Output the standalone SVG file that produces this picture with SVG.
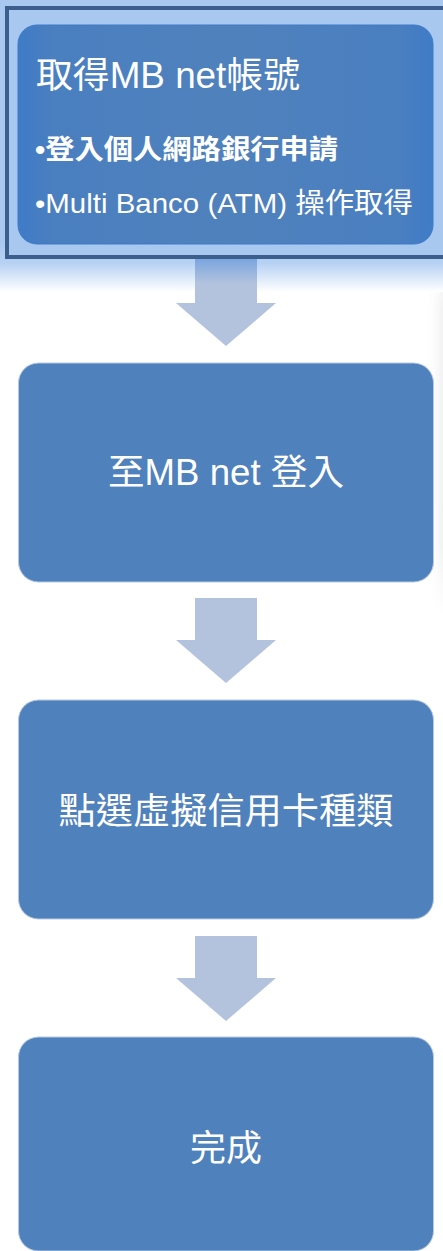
<svg xmlns="http://www.w3.org/2000/svg" width="443" height="1251" viewBox="0 0 443 1251">
  <defs>
    <linearGradient id="glow" x1="0" y1="0" x2="0" y2="1">
      <stop offset="0" stop-color="#a9c8f0"/>
      <stop offset="0.82" stop-color="#a9c8f0"/>
      <stop offset="0.9" stop-color="#b6d1f3"/>
      <stop offset="1" stop-color="#ffffff"/>
    </linearGradient>
    <linearGradient id="topbox" x1="0" y1="0" x2="1" y2="0">
      <stop offset="0" stop-color="#3f7bc7"/>
      <stop offset="0.08" stop-color="#4a7fc0"/>
      <stop offset="0.5" stop-color="#4f81bc"/>
      <stop offset="0.92" stop-color="#4a7fc0"/>
      <stop offset="1" stop-color="#3f7bc7"/>
    </linearGradient>
    <linearGradient id="shaft1" x1="0" y1="0" x2="0" y2="1">
      <stop offset="0" stop-color="#7aa5de"/>
      <stop offset="0.55" stop-color="#b3c3dd"/>
      <stop offset="1" stop-color="#b3c3dd"/>
    </linearGradient>
    <linearGradient id="rshadow" x1="0" y1="0" x2="1" y2="0">
      <stop offset="0" stop-color="#ffffff" stop-opacity="0"/>
      <stop offset="1" stop-color="#f1f1f1"/>
    </linearGradient>
    <linearGradient id="vfade" x1="0" y1="0" x2="0" y2="1">
      <stop offset="0" stop-color="#ffffff" stop-opacity="0"/>
      <stop offset="0.15" stop-color="#ffffff" stop-opacity="1"/>
      <stop offset="0.8" stop-color="#ffffff" stop-opacity="1"/>
      <stop offset="1" stop-color="#ffffff" stop-opacity="0"/>
    </linearGradient>
    <mask id="fadeMask">
      <rect x="425" y="255" width="18" height="360" fill="url(#vfade)"/>
    </mask>
  </defs>
  <style>
    .box { fill: #4f81bd; stroke: #b7c9e2; stroke-width: 1; }
    .lbl { fill: #ffffff; font-family: "Liberation Sans", "Noto Sans CJK TC", sans-serif; font-size: 36px; text-anchor: middle; }
    .t { fill: #ffffff; font-family: "Liberation Sans", "Noto Sans CJK TC", sans-serif; }
    .arrow { fill: #b3c3dd; }
  </style>

  <rect x="0" y="0" width="443" height="1251" fill="#ffffff"/>
  <rect x="425" y="255" width="18" height="360" fill="url(#rshadow)" mask="url(#fadeMask)"/>

  <g id="node1">
    <rect x="0" y="0" width="443" height="292" fill="url(#glow)"/>
    <rect x="7" y="8" width="445" height="249" fill="#a9c8f0" stroke="#3b5e8c" stroke-width="4"/>
    <rect x="18" y="25" width="415" height="219" rx="19" ry="19" fill="url(#topbox)" stroke="#3f7bc8" stroke-width="1"/>
    <text class="t" x="36" y="88" font-size="36" textLength="264" lengthAdjust="spacingAndGlyphs">取得MB net帳號</text>
    <text class="t" x="35" y="159" font-size="27" font-weight="bold" textLength="303" lengthAdjust="spacingAndGlyphs">•登入個人網路銀行申請</text>
    <text class="t" x="35" y="213" font-size="28" textLength="378" lengthAdjust="spacingAndGlyphs">•Multi Banco (ATM) 操作取得</text>
  </g>

  <g id="connectors">
    <rect x="195" y="259" width="62" height="45" fill="url(#shaft1)"/>
    <polygon class="arrow" points="176,303 276,303 226,346"/>
    <polygon class="arrow" points="195,598 257,598 257,640 276,640 226,683 176,640 195,640"/>
    <polygon class="arrow" points="195,936 257,936 257,978 276,978 226,1021 176,978 195,978"/>
  </g>

  <g id="node2">
    <rect class="box" x="18.5" y="363" width="415" height="219" rx="20" ry="20"/>
    <text class="lbl" x="226" y="485" textLength="236" lengthAdjust="spacingAndGlyphs">至MB net 登入</text>
  </g>

  <g id="node3">
    <rect class="box" x="18.5" y="700" width="415" height="219" rx="20" ry="20"/>
    <text class="lbl" x="226" y="824" textLength="335" lengthAdjust="spacingAndGlyphs">點選虛擬信用卡種類</text>
  </g>

  <g id="node4">
    <rect class="box" x="18.5" y="1037" width="415" height="214" rx="20" ry="20"/>
    <text class="lbl" x="226" y="1161">完成</text>
  </g>
</svg>
